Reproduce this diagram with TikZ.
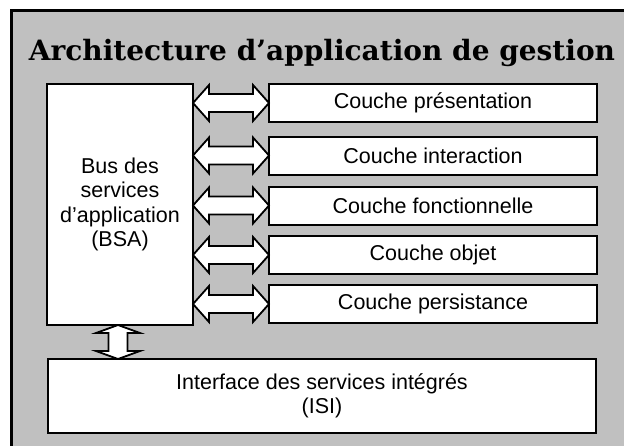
\documentclass[tikz,border=0pt]{standalone}
\usepackage{fontspec}
\setmainfont{Liberation Sans}
\newfontfamily\titlefont{DejaVu Serif}
\usetikzlibrary{calc}
\definecolor{panelgray}{RGB}{192,192,192}
\tikzset{
  box/.style={draw=black, fill=white, line width=2pt, rectangle, outer sep=0pt,
    inner sep=0pt, align=center, font=\fontsize{21.5}{24.5}\selectfont},
  blockarrow/.style={draw=black, fill=white, line width=1.8pt, line join=miter},
}
% horizontal double block arrow between two points on the same level
\newcommand\hdouble[2]{%
  \path[blockarrow] let \p1=(#1), \p2=(#2) in
    (\x1,\y1) -- (\x1+16pt,\y1+18pt) -- (\x1+16pt,\y1+9pt) -- (\x2-16pt,\y1+9pt)
    -- (\x2-16pt,\y1+18pt) -- (\x2,\y1) -- (\x2-16pt,\y1-18pt) -- (\x2-16pt,\y1-9pt)
    -- (\x1+16pt,\y1-9pt) -- (\x1+16pt,\y1-18pt) -- cycle;}
% vertical double block arrow between two points one above the other
\newcommand\vdouble[2]{%
  \path[blockarrow] let \p1=(#1), \p2=(#2) in
    (\x1,\y1) -- (\x1+22pt,\y1-8pt) -- (\x1+9.5pt,\y1-8pt) -- (\x1+9.5pt,\y2+8pt)
    -- (\x1+22pt,\y2+8pt) -- (\x1,\y2) -- (\x1-22pt,\y2+8pt) -- (\x1-9.5pt,\y2+8pt)
    -- (\x1-9.5pt,\y1-8pt) -- (\x1-22pt,\y1-8pt) -- cycle;}
\begin{document}
\begin{tikzpicture}[x=1pt,y=-1pt]
  \useasboundingbox (0,0) rectangle (624,445);
  \fill[white] (0,0) rectangle (624,445);
  \begin{scope}
    \clip (0,0) rectangle (624,445);
    \draw[line width=2.5pt, fill=panelgray] (11.5,10.5) rectangle (660,480);
  \end{scope}

  \node[font=\titlefont\bfseries\fontsize{28}{32}\selectfont, anchor=base] (title)
    at (322,60) {Architecture d’application de gestion};

  \node[box, minimum width=146, minimum height=241] (bsa) at (120,204.5)
    {Bus des\\services\\d’application\\(BSA)};

  \foreach \name/\y/\txt in {pres/103/Couche présentation,
                             inter/155.5/Couche interaction,
                             fonc/205.5/Couche fonctionnelle,
                             obj/255/Couche objet,
                             pers/304/Couche persistance}{
    \node[box, minimum width=328, minimum height=38] (\name) at (433,\y) {\txt};
  }

  \node[box, minimum width=548, minimum height=74] (isi) at (322,396)
    {Interface des services intégrés\\(ISI)};

  \foreach \name in {pres,inter,fonc,obj,pers}{
    \coordinate (tip-\name) at (bsa.east |- \name.west);
    \hdouble{tip-\name}{\name.west}
  }

  \coordinate (vtop) at (118,0 |- bsa.south);
  \coordinate (vbot) at (118,0 |- isi.north);
  \vdouble{vtop}{vbot}
\end{tikzpicture}
\end{document}
